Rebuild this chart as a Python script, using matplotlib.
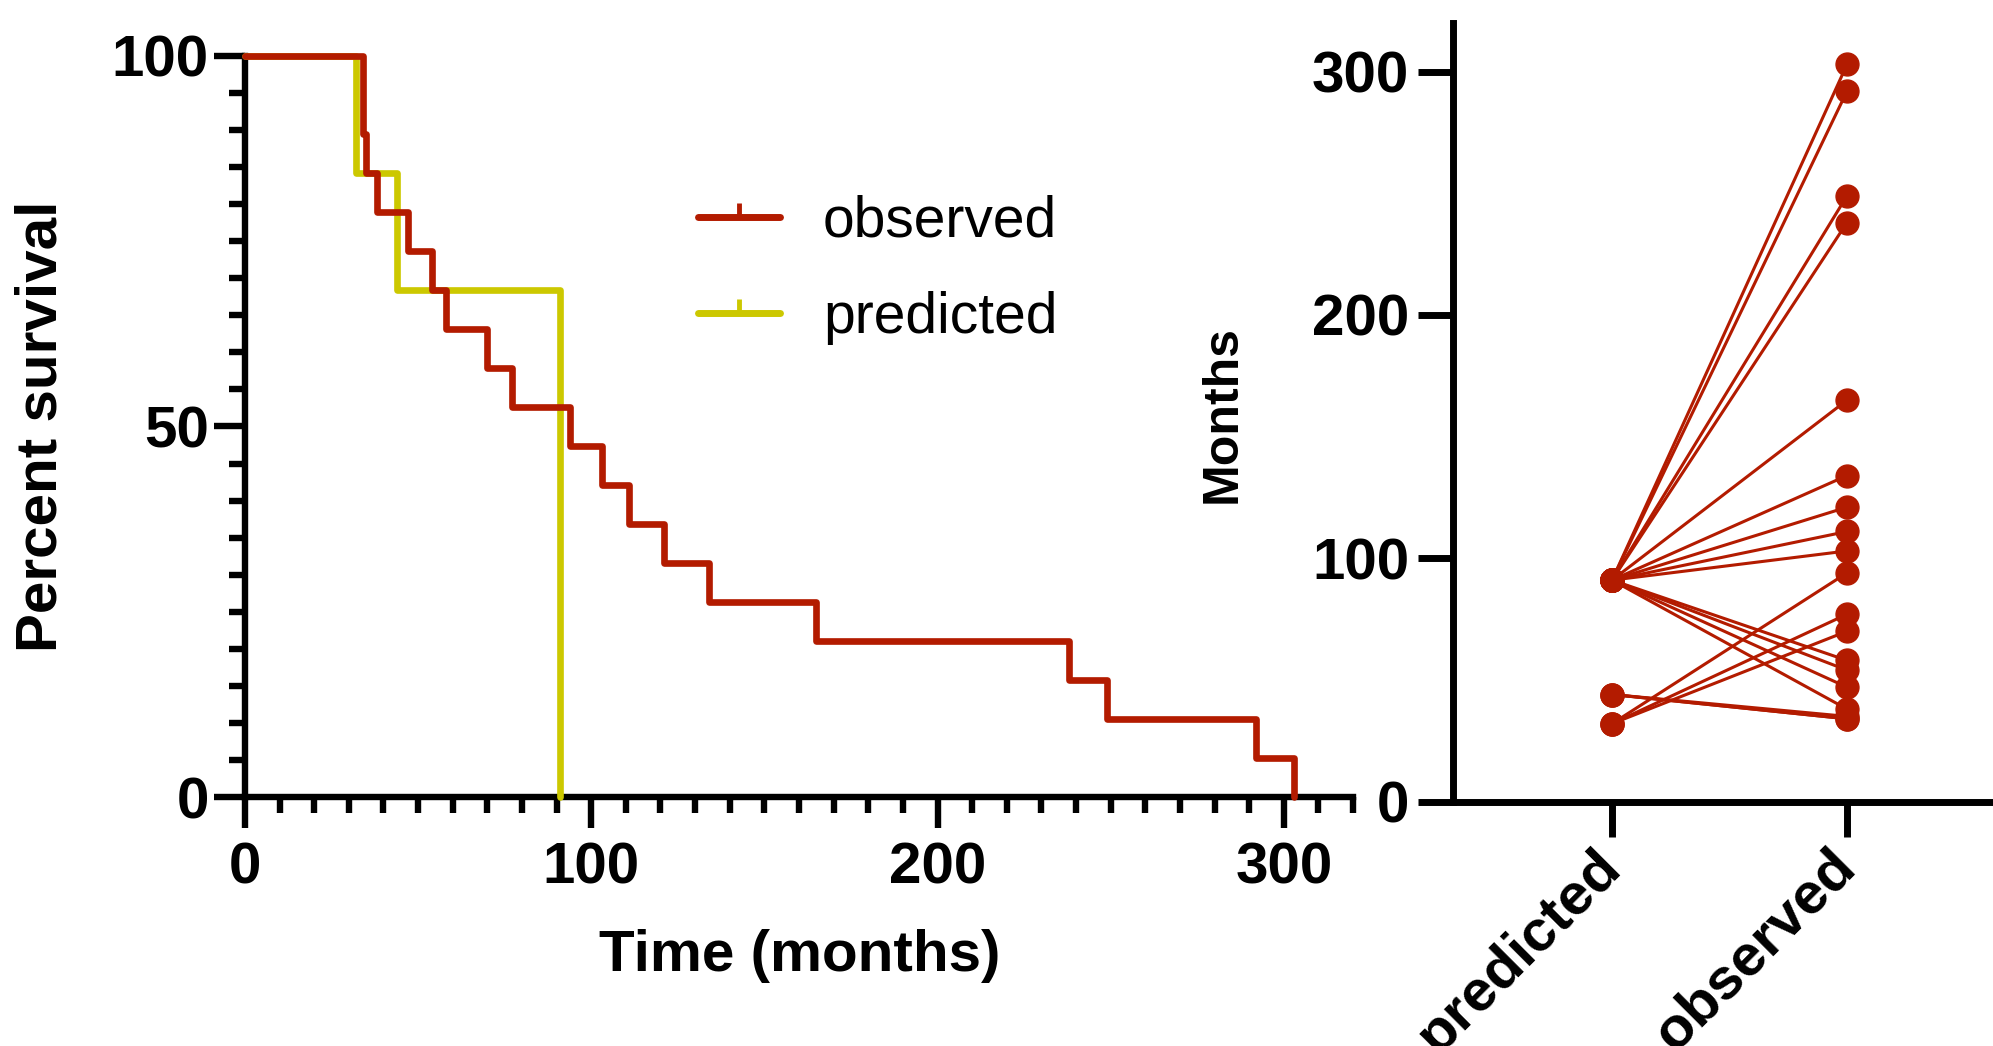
import numpy as np
import matplotlib.pyplot as plt
from matplotlib.lines import Line2D
from matplotlib.legend_handler import HandlerTuple
from matplotlib.ticker import MultipleLocator

# months per patient, same patient order in both lists
predicted = [91, 91, 91, 91, 91, 91, 91, 91, 91, 91, 91, 91, 91,
             32, 32, 32, 44, 44, 44]
observed = [303, 292, 249, 238, 165, 134, 121, 111, 103, 58, 54, 47, 38,
            94, 77, 70, 35, 34, 34]
groups = ['predicted', 'observed']

RED = '#B31B00'
YELLOW = '#CCC800'

plt.rcParams['font.family'] = ['Liberation Sans', 'DejaVu Sans']
plt.rcParams['font.weight'] = 'bold'
plt.rcParams['axes.labelweight'] = 'bold'


def km(times):
    """Kaplan-Meier curve (all events, no censoring) as step points."""
    t = np.sort(np.asarray(times, dtype=float))
    ut, counts = np.unique(t, return_counts=True)
    at_risk = len(t) - np.concatenate([[0], np.cumsum(counts)[:-1]])
    surv = 100.0 * np.cumprod(1.0 - counts / at_risk)
    return np.concatenate([[0.0], ut]), np.concatenate([[100.0], surv])


fig = plt.figure(figsize=(19.93, 10.46), dpi=100)

# ---- survival curves
ax = fig.add_axes([0.1229, 0.238, 0.556, 0.7086])
xp, yp = km(predicted)
xo, yo = km(observed)
ax.step(xp, yp, where='post', color=YELLOW, lw=4.8, clip_on=False,
        solid_capstyle='round', zorder=3)
ax.step(xo, yo, where='post', color=RED, lw=4.8, clip_on=False,
        solid_capstyle='round', zorder=4)
ax.set_xlim(0, 320)
ax.set_ylim(0, 100)
for s in ['top', 'right']:
    ax.spines[s].set_visible(False)
for s in ['left', 'bottom']:
    ax.spines[s].set_linewidth(4.6)
ax.xaxis.set_major_locator(MultipleLocator(100))
ax.xaxis.set_minor_locator(MultipleLocator(10))
ax.yaxis.set_major_locator(MultipleLocator(50))
ax.yaxis.set_minor_locator(MultipleLocator(5))
ax.tick_params(which='major', length=22, width=4.6, labelsize=42)
ax.tick_params(which='minor', length=11.5, width=4.6)
ax.tick_params(axis='x', which='major', pad=10)
ax.tick_params(axis='y', which='major', pad=4)
ax.set_xlabel('Time (months)', fontsize=42, va='center')
ax.xaxis.set_label_coords(0.501, -0.2146)
ax.set_ylabel('Percent survival', fontsize=42, va='center')
ax.yaxis.set_label_coords(-0.184, 0.5007)

handles = []
for c in [RED, YELLOW]:
    ln = Line2D([], [], color=c, lw=5, solid_capstyle='round')
    tk = Line2D([], [], color=c, marker=2, ls='none', ms=10, mew=3.5)
    handles.append((ln, tk))
ax.legend(handles, ['observed', 'predicted'],
          handler_map={tuple: HandlerTuple(ndivide=1)},
          loc='upper left', bbox_to_anchor=(0.409, 0.813),
          frameon=False, borderpad=0, borderaxespad=0,
          handlelength=1.44, handletextpad=0.75, labelspacing=0.74,
          prop={'size': 41, 'weight': 'normal'})

# ---- paired predicted vs observed
ax2 = fig.add_axes([0.729, 0.2337, 0.271, 0.7443])
for p, o in zip(predicted, observed):
    ax2.plot([0, 1], [p, o], color=RED, lw=2.2, marker='o', ms=16.5,
             clip_on=False, zorder=3)
ax2.set_xlim(-0.677, 1.621)
ax2.set_ylim(0, 320)
for s in ['top', 'right']:
    ax2.spines[s].set_visible(False)
for s in ['left', 'bottom']:
    ax2.spines[s].set_linewidth(5)
ax2.set_yticks([0, 100, 200, 300])
ax2.set_xticks([0, 1])
ax2.set_xticklabels(groups, rotation=45, ha='right', va='center',
                    rotation_mode='anchor')
ax2.tick_params(length=25, width=5, labelsize=42)
ax2.tick_params(axis='y', pad=6.5)
ax2.tick_params(axis='x', pad=16)
ax2.set_ylabel('Months', fontsize=36, va='center')
ax2.yaxis.set_label_coords(-0.426, 0.498)

fig.savefig('out.png', dpi=100)
